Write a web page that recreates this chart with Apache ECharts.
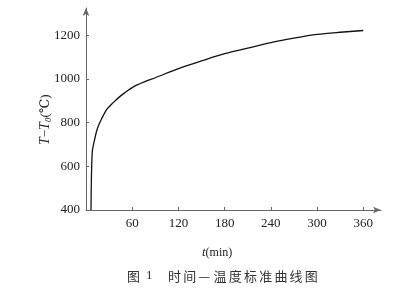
<!DOCTYPE html>
<html><head><meta charset="utf-8">
<script src="https://cdn.jsdelivr.net/npm/echarts@6/dist/echarts.min.js"></script>
<style>html,body{margin:0;padding:0;background:#fff}#c{width:402px;height:295px}</style>
</head><body><div id="c"></div>
<script>
const timeMin = [6.5, 8, 11, 15, 20, 27, 35, 45, 60, 75, 90, 120, 150, 180, 210, 240, 270, 300, 330, 360];
const tempRise = [400, 660, 720, 775, 815, 860, 890, 922, 960, 985, 1005, 1047, 1082, 1115, 1140, 1166, 1186, 1203, 1213, 1221];
const xTicks = [60, 120, 180, 240, 300, 360];
const yTicks = [400, 600, 800, 1000, 1200];
const figLabel = ['图', '1'];
const caption = '时间—温度标准曲线图';

const chart = echarts.init(document.getElementById('c'), null, {renderer: 'canvas'});
const serif = '"Liberation Serif","DejaVu Serif",serif';
const cjk = '13px "Noto Sans CJK SC", sans-serif';
const axisCol = '#666';

const capEls = [];
capEls.push({type: 'text', x: 127, y: 276, style: {text: figLabel[0], fill: '#333', font: cjk, textVerticalAlign: 'middle'}});
capEls.push({type: 'text', x: 146, y: 276, style: {text: figLabel[1], fill: '#333', font: '13px ' + serif, textVerticalAlign: 'middle'}});
caption.split('').forEach((ch, i) => {
  capEls.push({type: 'text', x: 168 + i * 15.2, y: 276, style: {text: ch, fill: '#333', font: cjk, textVerticalAlign: 'middle'}});
});

chart.setOption({
  animation: false,
  grid: {left: 86, right: 21, top: 8, bottom: 85},
  xAxis: {
    type: 'value', min: 0, max: 383,
    axisLine: {show: true, lineStyle: {color: axisCol, width: 1}, symbol: ['none', 'arrow'], symbolSize: [5, 8]},
    axisTick: {show: true, inside: true, length: 3, customValues: xTicks, lineStyle: {color: axisCol}},
    axisLabel: {customValues: xTicks, color: '#222', fontFamily: serif, fontSize: 13, margin: 7, formatter: v => String(v)},
    splitLine: {show: false}
  },
  yAxis: {
    type: 'value', min: 400, max: 1324,
    axisLine: {show: true, lineStyle: {color: axisCol, width: 1}, symbol: ['none', 'arrow'], symbolSize: [5, 8]},
    axisTick: {show: true, inside: true, length: 3, customValues: yTicks, lineStyle: {color: axisCol}},
    axisLabel: {customValues: yTicks, color: '#222', fontFamily: serif, fontSize: 13, margin: 6, formatter: v => String(v)},
    splitLine: {show: false}
  },
  series: [{
    type: 'line',
    data: timeMin.map((t, i) => [t, tempRise[i]]),
    smooth: 0.3,
    showSymbol: false,
    lineStyle: {color: '#111', width: 1.3}
  }],
  graphic: [
    {type: 'text', left: 202, top: 246,
     style: {text: '{i|t}(min)', fill: '#222', font: '12px ' + serif,
             rich: {i: {fontStyle: 'italic', fontFamily: serif, fontSize: 13}}}},
    {type: 'text', x: 38, y: 145, rotation: Math.PI / 2,
     style: {text: '{i|T}−{i|T}{s|0}(℃)', fill: '#222', font: '13px ' + serif,
             rich: {i: {fontStyle: 'italic', fontFamily: serif, fontSize: 14},
                    s: {fontStyle: 'italic', fontFamily: serif, fontSize: 9, verticalAlign: 'bottom', padding: [6, 0, 0, 0]}}}},
    {type: 'group', children: capEls}
  ]
});
</script></body></html>
